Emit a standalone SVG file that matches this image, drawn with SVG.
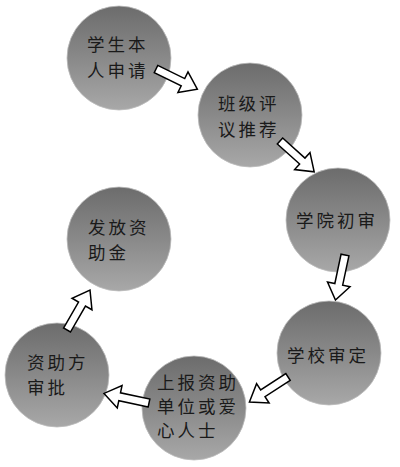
<svg xmlns="http://www.w3.org/2000/svg" width="400" height="467" viewBox="0 0 400 467">
<defs>
<linearGradient id="g" x1="0" y1="0" x2="0" y2="1">
<stop offset="0" stop-color="#6c6c6c"/>
<stop offset="0.5" stop-color="#898989"/>
<stop offset="1" stop-color="#a8a8a8"/>
</linearGradient>
<path id="arr" d="M0,-4 L30,-4 L30,-11.5 L46,0 L30,11.5 L30,4 L0,4 Z"/>
</defs>
<style>
.c{fill:url(#g);stroke:#bdbdbd;stroke-width:0.8}
.t{font-family:"Noto Sans CJK SC","Noto Sans",sans-serif;font-size:17.5px;fill:#1a1a1a;letter-spacing:3px}
.a{fill:#fff;stroke:#000;stroke-width:1.5;stroke-linejoin:miter}
</style>
<rect width="400" height="467" fill="#fff"/>
<g id="n1"><circle class="c" cx="119" cy="58" r="52"/><text class="t" x="87" y="51">学生本</text><text class="t" x="87" y="77">人申请</text></g>
<g id="n2"><circle class="c" cx="250" cy="115" r="52"/><text class="t" x="218" y="110">班级评</text><text class="t" x="218" y="136">议推荐</text></g>
<g id="n3"><circle class="c" cx="338" cy="220" r="52"/><text class="t" x="296" y="227">学院初审</text></g>
<g id="n4"><circle class="c" cx="329" cy="353" r="52"/><text class="t" x="287" y="362">学校审定</text></g>
<g id="n5"><circle class="c" cx="194" cy="408" r="52"/><text class="t" x="157" y="389">上报资助</text><text class="t" x="157" y="413">单位或爱</text><text class="t" x="157" y="437">心人士</text></g>
<g id="n6"><circle class="c" cx="57" cy="375" r="52"/><text class="t" x="27" y="369">资助方</text><text class="t" x="27" y="394">审批</text></g>
<g id="n7"><circle class="c" cx="119" cy="239" r="52"/><text class="t" x="88" y="234">发放资</text><text class="t" x="88" y="259">助金</text></g>
<g id="connectors">
<use href="#arr" class="a" transform="translate(156,69) rotate(26)"/>
<use href="#arr" class="a" transform="translate(280,141) rotate(42)"/>
<use href="#arr" class="a" transform="translate(345,255) rotate(102)"/>
<use href="#arr" class="a" transform="translate(288,377) rotate(147)"/>
<use href="#arr" class="a" transform="translate(149,403) rotate(192)"/>
<use href="#arr" class="a" transform="translate(67,330) rotate(-60)"/>
</g>
</svg>
